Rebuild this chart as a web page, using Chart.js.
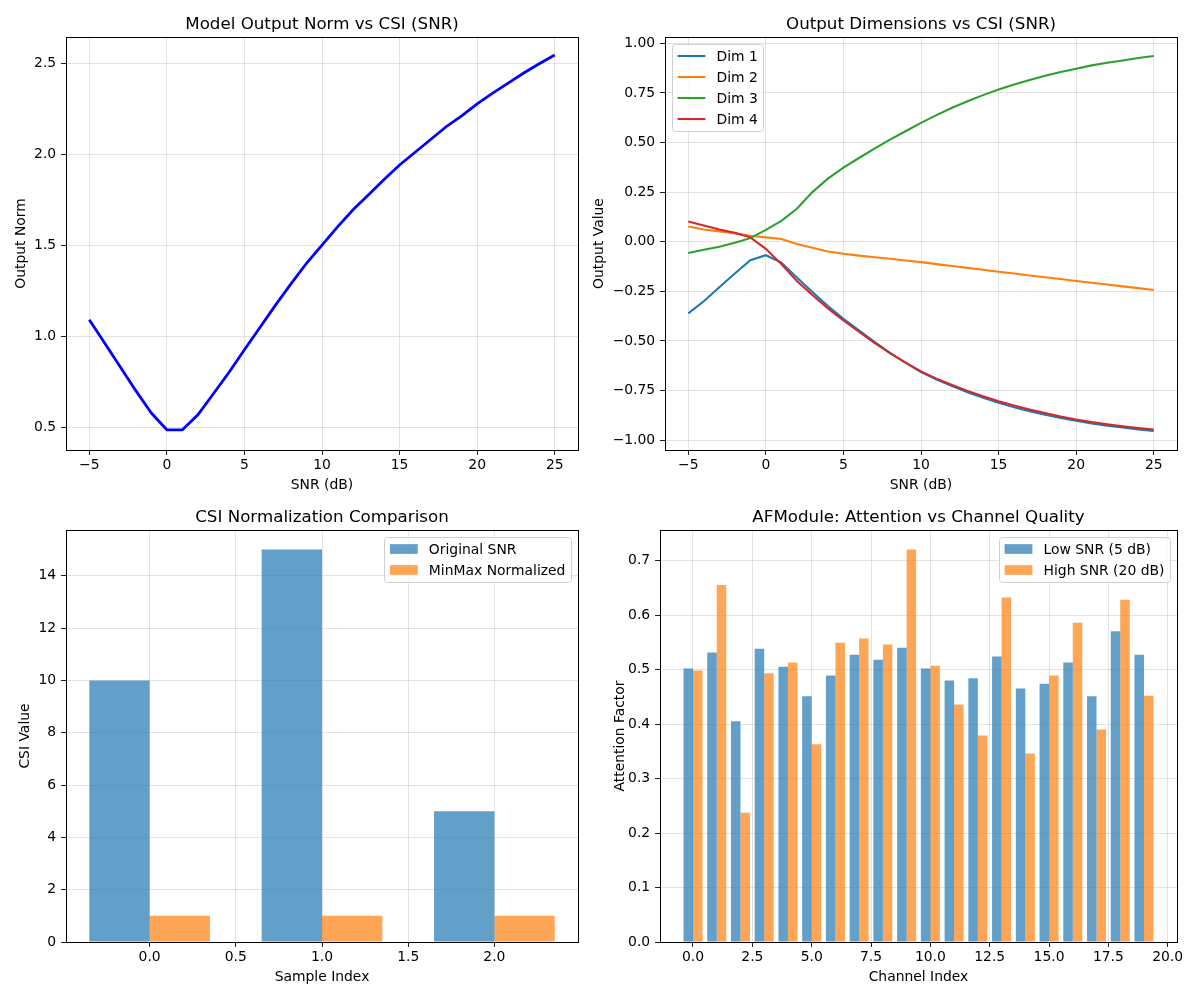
<!DOCTYPE html>
<html>
<head>
<meta charset="utf-8">
<script src="https://cdn.jsdelivr.net/npm/chart.js@4.4.1/dist/chart.umd.min.js"></script>
<style>
body { margin: 0; background: #fff; }
#wrap { position: relative; width: 1200px; height: 1000px; }
canvas { position: absolute; }
</style>
</head>
<body>
<div id="wrap">
  <canvas id="normChart" width="600" height="500" style="left:0;top:0"></canvas>
  <canvas id="dimChart" width="620" height="500" style="left:580px;top:0"></canvas>
  <canvas id="csiChart" width="600" height="500" style="left:0;top:500px"></canvas>
  <canvas id="attnChart" width="620" height="500" style="left:580px;top:500px"></canvas>
</div>
<script>
// SNR sweep (dB)
const snrDb = [-5, -4, -3, -2, -1, 0, 1, 2, 3, 4, 5, 6, 7, 8, 9, 10, 11, 12, 13, 14, 15, 16, 17, 18, 19, 20, 21, 22, 23, 24, 25];

// model output norm per SNR
const outputNorm = [1.09, 0.96, 0.83, 0.70, 0.577, 0.485, 0.485, 0.567, 0.683, 0.80, 0.925, 1.047, 1.17, 1.287, 1.40, 1.50,
                    1.60, 1.694, 1.776, 1.86, 1.94, 2.01, 2.08, 2.15, 2.21, 2.276, 2.335, 2.39, 2.445, 2.496, 2.544];

// output dimensions per SNR
const dim1 = [-0.361, -0.30, -0.23, -0.16, -0.093, -0.068, -0.105, -0.18, -0.253, -0.324, -0.389, -0.447, -0.505, -0.56, -0.61, -0.657,
              -0.695, -0.728, -0.759, -0.787, -0.812, -0.834, -0.854, -0.872, -0.888, -0.903, -0.916, -0.927, -0.937, -0.946, -0.954];
const dim2 = [0.077, 0.062, 0.052, 0.042, 0.03, 0.022, 0.014, -0.011, -0.031, -0.049, -0.061, -0.07, -0.078, -0.086, -0.095, -0.103,
              -0.113, -0.122, -0.132, -0.141, -0.151, -0.16, -0.17, -0.179, -0.188, -0.198, -0.207, -0.216, -0.225, -0.234, -0.243];
const dim3 = [-0.057, -0.041, -0.025, -0.005, 0.018, 0.06, 0.105, 0.166, 0.25, 0.318, 0.373, 0.422, 0.469, 0.515, 0.557, 0.599,
              0.638, 0.675, 0.708, 0.739, 0.767, 0.793, 0.815, 0.837, 0.855, 0.872, 0.889, 0.902, 0.914, 0.926, 0.936];
const dim4 = [0.102, 0.082, 0.062, 0.045, 0.022, -0.036, -0.113, -0.198, -0.269, -0.336, -0.397, -0.454, -0.51, -0.562, -0.61, -0.654,
              -0.69, -0.722, -0.752, -0.779, -0.804, -0.826, -0.846, -0.864, -0.881, -0.896, -0.909, -0.92, -0.93, -0.939, -0.947];

// CSI normalization comparison
const sampleIndex = [0, 1, 2];
const originalSnr = [10, 15, 5];
const minmaxNorm = [1, 1, 1];

// AFModule attention factors
const channelIndex = [0, 1, 2, 3, 4, 5, 6, 7, 8, 9, 10, 11, 12, 13, 14, 15, 16, 17, 18, 19];
const lowSnr = [0.502, 0.531, 0.405, 0.538, 0.505, 0.451, 0.489, 0.527, 0.518, 0.540,
                0.502, 0.480, 0.484, 0.524, 0.465, 0.474, 0.513, 0.451, 0.570, 0.527];
const highSnr = [0.498, 0.655, 0.237, 0.493, 0.513, 0.363, 0.549, 0.557, 0.546, 0.720,
                 0.507, 0.436, 0.379, 0.632, 0.346, 0.489, 0.586, 0.390, 0.628, 0.452];

Chart.defaults.font.family = '"DejaVu Sans", sans-serif';
Chart.defaults.font.size = 13.9;
Chart.defaults.color = '#000';
Chart.defaults.animation = false;

const GRID = 'rgba(176,176,176,0.35)';
const FONT = '"DejaVu Sans", sans-serif';

// matplotlib style tick labels (unicode minus)
function fmt(dec) {
    return function(v) {
        const r = Math.round(v * 1e6) / 1e6;
        return (r < 0 ? '\u2212' : '') + Math.abs(r).toFixed(dec);
    };
}

function axis(o) {
    return {
        type: 'linear',
        min: o.min,
        max: o.max,
        offset: false,
        ticks: { stepSize: o.step, includeBounds: false, autoSkip: false, maxRotation: 0,
                 padding: o.pad, callback: fmt(o.dec) },
        grid: { color: GRID, lineWidth: 1, offset: false, drawTicks: true, tickLength: 4.9,
                tickColor: '#000', tickWidth: 0.9 },
        border: { display: false },
        title: { display: true, text: o.label, padding: o.titlePad },
        afterFit: o.fit
    };
}

// frame, title and in-axes legend like matplotlib
const framePlugin = {
    id: 'frame',
    afterDraw(chart, args, opts) {
        const ctx = chart.ctx;
        const a = chart.chartArea;
        ctx.save();
        ctx.strokeStyle = '#000';
        ctx.lineWidth = 1;
        ctx.strokeRect(Math.round(a.left) + 0.5, Math.round(a.top) + 0.5,
                       Math.round(a.right - a.left), Math.round(a.bottom - a.top));

        ctx.fillStyle = '#000';
        ctx.font = '16.7px ' + FONT;
        ctx.textAlign = 'center';
        ctx.textBaseline = 'alphabetic';
        ctx.fillText(opts.title, (a.left + a.right) / 2, a.top - 8.3);

        if (opts.corner === 'none') {
            ctx.restore();
            return;
        }
        const items = chart.data.datasets.map(d => ({
            label: d.label,
            color: chart.config.type === 'line' ? d.borderColor : d.backgroundColor,
            lw: d.borderWidth
        }));
        ctx.font = '13.9px ' + FONT;
        const tw = Math.max(...items.map(it => ctx.measureText(it.label).width));
        const w = 5.6 + 27.8 + 11.1 + tw + 5.6;
        const h = 24 + 21 * (items.length - 1);
        const x0 = opts.corner === 'ul' ? a.left + 7 : a.right - 7 - w;
        const y0 = a.top + 7;

        ctx.beginPath();
        ctx.roundRect(Math.round(x0) + 0.5, Math.round(y0) + 0.5, Math.round(w), Math.round(h), 3);
        ctx.fillStyle = 'rgba(255,255,255,0.8)';
        ctx.fill();
        ctx.strokeStyle = '#d0d0d0';
        ctx.lineWidth = 1;
        ctx.stroke();

        ctx.textAlign = 'left';
        ctx.textBaseline = 'middle';
        items.forEach((it, i) => {
            const cy = y0 + 12 + i * 21;
            if (opts.handle === 'line') {
                ctx.strokeStyle = it.color;
                ctx.lineWidth = it.lw;
                ctx.beginPath();
                ctx.moveTo(x0 + 5.6, cy);
                ctx.lineTo(x0 + 33.4, cy);
                ctx.stroke();
            } else {
                ctx.fillStyle = it.color;
                ctx.fillRect(x0 + 5.6, cy - 4.85, 27.8, 9.7);
            }
            ctx.fillStyle = '#000';
            ctx.fillText(it.label, x0 + 44.5, cy + 1);
        });
        ctx.restore();
    }
};

function pts(xs, ys) {
    return xs.map((x, i) => ({ x: x, y: ys[i] }));
}

function initializeNormChart() {
    new Chart(document.getElementById('normChart'), {
        type: 'line',
        data: {
            datasets: [{
                label: 'Output Norm',
                data: pts(snrDb, outputNorm),
                borderColor: '#0000ff',
                borderWidth: 2.78,
                pointRadius: 0,
                tension: 0
            }]
        },
        options: {
            responsive: false,
            events: [],
            layout: { padding: { left: 0, right: 22, top: 37, bottom: 0 } },
            plugins: { legend: { display: false }, tooltip: { enabled: false },
                       frame: { title: 'Model Output Norm vs CSI (SNR)', corner: 'none' } },
            scales: {
                x: axis({ min: -6.5, max: 26.5, step: 5, dec: 0, pad: 2, label: 'SNR (dB)',
                          titlePad: { top: 0, bottom: 6.7 }, fit: s => { s.height = 50; } }),
                y: axis({ min: 0.374, max: 2.643, step: 0.5, dec: 1, pad: 4.9, label: 'Output Norm',
                          titlePad: { top: 12.7, bottom: 0 }, fit: s => { s.width = 66; } })
            }
        },
        plugins: [framePlugin]
    });
}

function initializeDimChart() {
    const colors = ['#1f77b4', '#ff7f0e', '#2ca02c', '#d62728'];
    const dims = [dim1, dim2, dim3, dim4];
    new Chart(document.getElementById('dimChart'), {
        type: 'line',
        data: {
            datasets: dims.map((d, i) => ({
                label: 'Dim ' + (i + 1),
                data: pts(snrDb, d),
                borderColor: colors[i],
                borderWidth: 2.08,
                pointRadius: 0,
                tension: 0,
                order: 3 - i
            }))
        },
        options: {
            responsive: false,
            events: [],
            layout: { padding: { left: 0, right: 23, top: 37, bottom: 0 } },
            plugins: { legend: { display: false }, tooltip: { enabled: false },
                       frame: { title: 'Output Dimensions vs CSI (SNR)', corner: 'ul', handle: 'line' } },
            scales: {
                x: axis({ min: -6.5, max: 26.5, step: 5, dec: 0, pad: 2, label: 'SNR (dB)',
                          titlePad: { top: 0, bottom: 6.7 }, fit: s => { s.height = 50; } }),
                y: axis({ min: -1.05, max: 1.032, step: 0.25, dec: 2, pad: 4.9, label: 'Output Value',
                          titlePad: { top: 10.7, bottom: 0 }, fit: s => { s.width = 85; } })
            }
        },
        plugins: [framePlugin]
    });
}

function initializeCsiChart() {
    // bar ruler uses the 0.5 tick spacing, so 1.4 of it = 0.7 units per group
    new Chart(document.getElementById('csiChart'), {
        type: 'bar',
        data: {
            datasets: [
                { label: 'Original SNR', data: pts(sampleIndex, originalSnr), backgroundColor: 'rgba(31,119,180,0.7)',
                  borderWidth: 0, barPercentage: 1.0, categoryPercentage: 1.4 },
                { label: 'MinMax Normalized', data: pts(sampleIndex, minmaxNorm), backgroundColor: 'rgba(255,127,14,0.7)',
                  borderWidth: 0, barPercentage: 1.0, categoryPercentage: 1.4 }
            ]
        },
        options: {
            responsive: false,
            events: [],
            layout: { padding: { left: 0, right: 22, top: 30, bottom: 0 } },
            plugins: { legend: { display: false }, tooltip: { enabled: false },
                       frame: { title: 'CSI Normalization Comparison', corner: 'ur', handle: 'box' } },
            scales: {
                x: axis({ min: -0.485, max: 2.485, step: 0.5, dec: 1, pad: 2, label: 'Sample Index',
                          titlePad: { top: 0, bottom: 14.7 }, fit: s => { s.height = 58; } }),
                y: axis({ min: 0, max: 15.75, step: 2, dec: 0, pad: 4.9, label: 'CSI Value',
                          titlePad: { top: 16.7, bottom: 0 }, fit: s => { s.width = 66; } })
            }
        },
        plugins: [framePlugin]
    });
}

function initializeAttnChart() {
    new Chart(document.getElementById('attnChart'), {
        type: 'bar',
        data: {
            datasets: [
                { label: 'Low SNR (5 dB)', data: pts(channelIndex, lowSnr), backgroundColor: 'rgba(31,119,180,0.7)',
                  borderWidth: 0, barPercentage: 1.0, categoryPercentage: 0.8 },
                { label: 'High SNR (20 dB)', data: pts(channelIndex, highSnr), backgroundColor: 'rgba(255,127,14,0.7)',
                  borderWidth: 0, barPercentage: 1.0, categoryPercentage: 0.8 }
            ]
        },
        options: {
            responsive: false,
            events: [],
            layout: { padding: { left: 0, right: 23, top: 30, bottom: 0 } },
            plugins: { legend: { display: false }, tooltip: { enabled: false },
                       frame: { title: 'AFModule: Attention vs Channel Quality', corner: 'ur', handle: 'box' } },
            scales: {
                x: axis({ min: -1.39, max: 20.39, step: 2.5, dec: 1, pad: 2, label: 'Channel Index',
                          titlePad: { top: 0, bottom: 14.7 }, fit: s => { s.height = 58; } }),
                y: axis({ min: 0, max: 0.756, step: 0.1, dec: 1, pad: 4.9, label: 'Attention Factor',
                          titlePad: { top: 31.7, bottom: 0 }, fit: s => { s.width = 80; } })
            }
        },
        plugins: [framePlugin]
    });
}

initializeNormChart();
initializeDimChart();
initializeCsiChart();
initializeAttnChart();
</script>
</body>
</html>
